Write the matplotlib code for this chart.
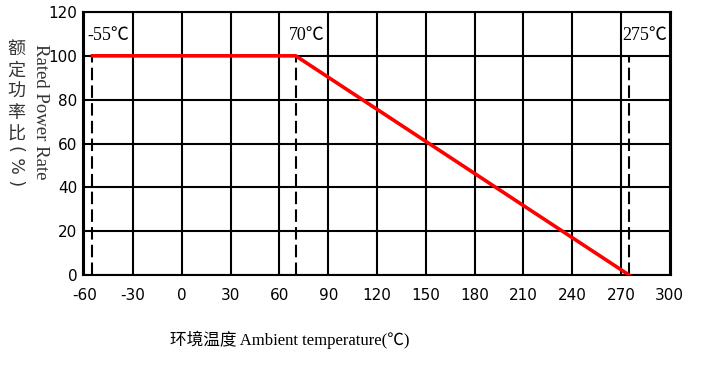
import numpy as np
import matplotlib
matplotlib.use('Agg')
import matplotlib.pyplot as plt

plt.rcParams['axes.unicode_minus'] = False

# derating curve: temperature (C) vs rated power (%)
temps = [-55, 70, 275]
power = [100, 100, 0]

# marker temperatures for dashed guide lines
marks = [-55, 70, 275]
mark_labels = ['-55℃', '70℃', '275℃']

xticks = list(range(-60, 301, 30))
yticks = list(range(0, 121, 20))

fig = plt.figure(figsize=(7.13, 3.70), dpi=100)
ax = fig.add_axes([83/713, 1-275/370, (671-83)/713, (275-12)/370])

ax.set_xlim(-60.8, 300.8)
ax.set_ylim(0, 120)
ax.set_xticks(xticks)
ax.set_yticks(yticks)
ax.tick_params(length=0, labelsize=11)
ax.tick_params(axis='x', pad=9)
ax.tick_params(axis='y', pad=4)
ax.grid(True, color='black', lw=1.5)
for s in ax.spines.values():
    s.set_linewidth(1.5)

# dashed guides
for m in marks:
    ax.plot([m, m], [0, 100], color='black', lw=1.5, ls=(0, (6, 2.5)), zorder=3)

ax.plot(temps, power, color='#ff0000', lw=2.6, zorder=4)

serif = ['Liberation Serif', 'Noto Sans CJK SC', 'DejaVu Sans']
ax.text(-58, 105.5, mark_labels[0], fontsize=13, family=serif, ha='left', va='bottom')
ax.text(66, 105.5, mark_labels[1], fontsize=13, family=serif, ha='left', va='bottom')
ax.text(271, 105.5, mark_labels[2], fontsize=13, family=serif, ha='left', va='bottom')

# y labels
fig.text(40/713, 1-112/370, 'Rated Power Rate', rotation=-90, fontsize=13.5,
         family=serif, color='#333333', ha='center', va='center')
fig.text(16/713, 1-92/370, '额\n定\n功\n率\n比', fontsize=13, linespacing=1.22,
         family=['Noto Sans CJK SC'], color='#333333', ha='center', va='center')
fig.text(16/713, 1-166/370, '( % )', rotation=-90, fontsize=12.5,
         family=['DejaVu Sans'], color='#333333', ha='center', va='center')

# x label
fig.text(290/713, 1-340/370, '环境温度 Ambient temperature(℃)', fontsize=12,
         family=serif, ha='center', va='center')

fig.savefig('out.png', dpi=100)
